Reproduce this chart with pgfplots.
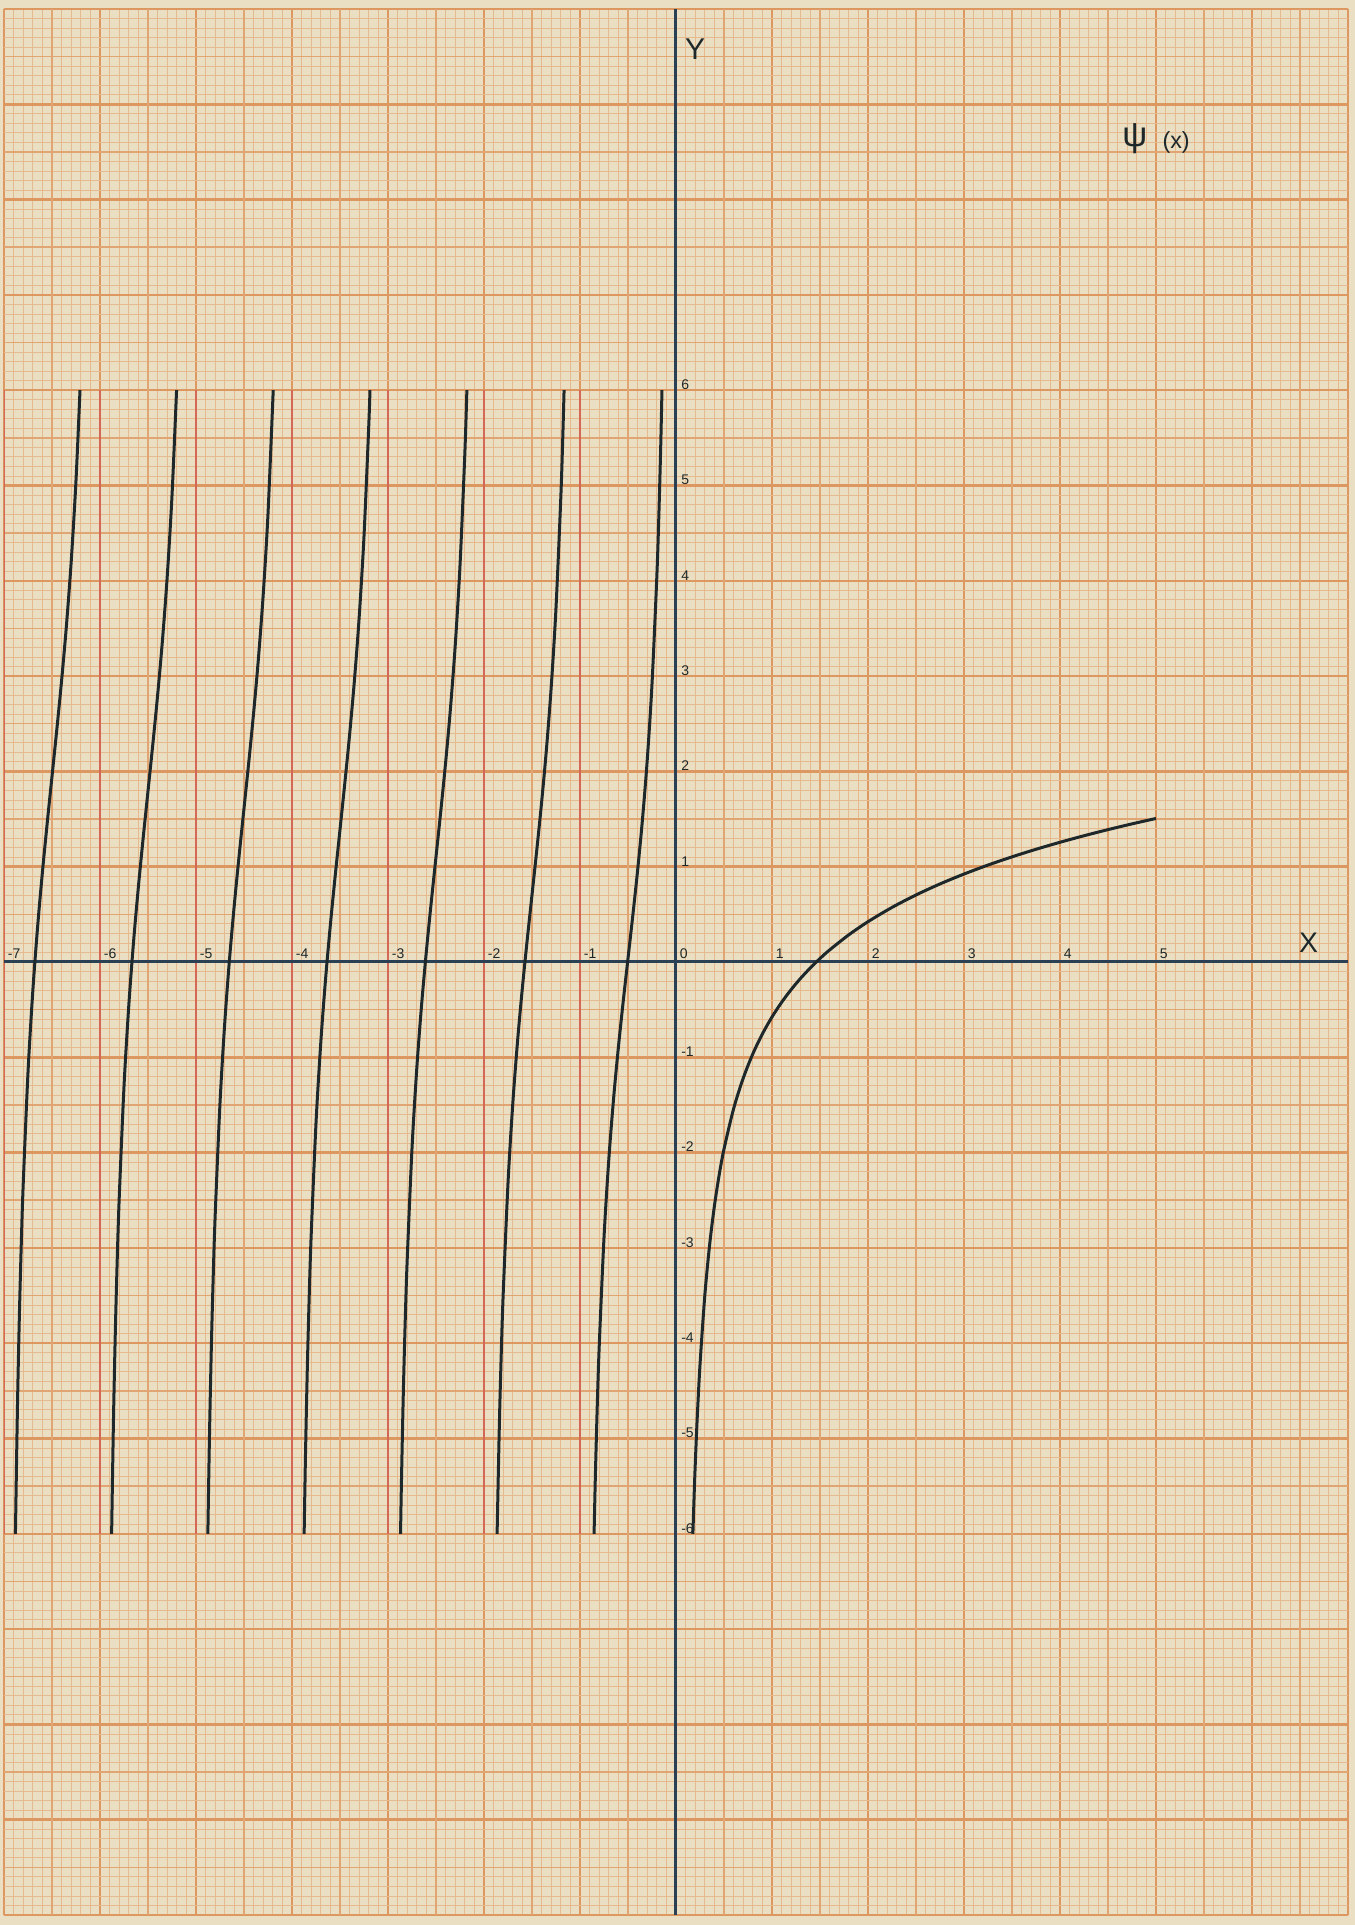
\documentclass[border=0pt]{standalone}
\usepackage{fontspec}
\setmainfont{Liberation Sans}
\usepackage{pgfplots}
\pgfplotsset{compat=1.18}
\usetikzlibrary{backgrounds}
\definecolor{paper}{RGB}{234,223,194}
\definecolor{gridmajor}{RGB}{221,152,98}
\definecolor{gridmed}{RGB}{225,165,115}
\definecolor{gridminor}{RGB}{229,186,142}
\definecolor{redline}{RGB}{212,104,86}
\definecolor{ink}{RGB}{30,40,42}
\definecolor{axisink}{RGB}{42,64,84}
\begin{document}
\begin{tikzpicture}
\begin{axis}[
  name=ax,
  scale only axis, width=403.2pt, height=571.8pt,
  xmin=-7, xmax=7, ymin=-10, ymax=10,
  axis lines=middle, axis line style={draw=none,-},
  hide obscured x ticks=false, hide obscured y ticks=false,
  xtick={-7,...,7},
  xticklabels={-7,-6,-5,-4,-3,-2,-1,0,1,2,3,4,5,{},{}},
  ytick={-10,...,10},
  yticklabels={{},{},{},{},-6,-5,-4,-3,-2,-1,{},1,2,3,4,5,6,{},{},{},{}},
  minor x tick num=9, minor y tick num=9,
  grid=both,
  minor grid style={gridminor, line width=0.25pt},
  major grid style={gridmajor, line width=0.75pt},
  extra x ticks={-6.5,-5.5,...,6.5},
  extra y ticks={-9.5,-8.5,...,9.5},
  extra x tick labels={}, extra y tick labels={},
  extra tick style={major grid style={gridmed, line width=0.45pt}},
  major tick length=0pt, minor tick length=0pt,
  tick style={draw=none},
  xticklabel style={font=\fontsize{4.2}{4.2}\selectfont, text=ink, anchor=west, inner sep=0pt, xshift=1pt, yshift=2.4pt},
  yticklabel style={font=\fontsize{4.2}{4.2}\selectfont, text=ink, anchor=west, inner sep=0pt, xshift=1.4pt, yshift=1.65pt},
  no markers,
]
% asymptote lines
\addplot[redline, line width=0.8pt] coordinates {(-1,-6) (-1,6)};
\addplot[redline, line width=0.8pt] coordinates {(-2,-6) (-2,6)};
\addplot[redline, line width=0.8pt] coordinates {(-3,-6) (-3,6)};
\addplot[redline, line width=0.8pt] coordinates {(-4,-6) (-4,6)};
\addplot[redline, line width=0.8pt] coordinates {(-5,-6) (-5,6)};
\addplot[redline, line width=0.8pt] coordinates {(-6,-6) (-6,6)};
\addplot[redline, line width=0.8pt] coordinates {(-7,-6) (-7,6)};
% axes
\addplot[axisink, line width=0.9pt] coordinates {(-7,0) (7,0)};
\addplot[axisink, line width=0.9pt] coordinates {(0,-10) (0,10)};
% digamma branches
\addplot[ink, line width=0.9pt, smooth, tension=0.5] coordinates {
(-0.14605,6) (-0.16,5.37358) (-0.18,4.63569) (-0.20,4.03499) (-0.25,2.91414) (-0.30,2.11332) (-0.35,1.48679) (-0.40,0.95938) (-0.45,0.48626) (-0.50,0.03649) (-0.55,-0.41536) (-0.60,-0.89472) (-0.65,-1.43261) (-0.70,-2.07396) (-0.75,-2.89412) (-0.80,-4.03904) (-0.82,-4.65075) (-0.84,-5.40047) (-0.85322,-6)};
\addplot[ink, line width=0.9pt, smooth, tension=0.5] coordinates {
(-1.16580,6) (-1.18,5.48315) (-1.20,4.86832) (-1.25,3.71414) (-1.30,2.88255) (-1.35,2.22753) (-1.40,1.67367) (-1.45,1.17592) (-1.50,0.70316) (-1.55,0.22980) (-1.60,-0.26972) (-1.65,-0.82655) (-1.70,-1.48573) (-1.75,-2.32269) (-1.80,-3.48348) (-1.82,-4.10130) (-1.84,-4.85699) (-1.86343,-6)};
\addplot[ink, line width=0.9pt, smooth, tension=0.5] coordinates {
(-2.17831,6) (-2.20,5.32287) (-2.25,4.15858) (-2.30,3.31733) (-2.35,2.65306) (-2.40,2.09034) (-2.45,1.58408) (-2.50,1.10316) (-2.55,0.62196) (-2.60,0.11490) (-2.65,-0.44919) (-2.70,-1.11536) (-2.75,-1.95905) (-2.80,-3.12634) (-2.82,-3.74669) (-2.84,-4.50488) (-2.86,-5.46063) (-2.86934,-6)};
\addplot[ink, line width=0.9pt, smooth, tension=0.5] coordinates {
(-3.18781,6) (-3.20,5.63537) (-3.25,4.46627) (-3.30,3.62036) (-3.35,2.95157) (-3.40,2.38446) (-3.45,1.87394) (-3.50,1.38887) (-3.55,0.90365) (-3.60,0.39268) (-3.65,-0.17522) (-3.70,-0.84509) (-3.75,-1.69238) (-3.80,-2.86318) (-3.82,-3.48491) (-3.84,-4.24446) (-3.86,-5.20156) (-3.87340,-6)};
\addplot[ink, line width=0.9pt, smooth, tension=0.5] coordinates {
(-4.19562,6) (-4.25,4.70156) (-4.30,3.85292) (-4.35,3.18146) (-4.40,2.61173) (-4.45,2.09866) (-4.50,1.61109) (-4.55,1.12343) (-4.60,0.61007) (-4.65,0.03983) (-4.70,-0.63232) (-4.75,-1.48185) (-4.80,-2.65485) (-4.82,-3.27744) (-4.84,-4.03785) (-4.86,-4.99580) (-4.87645,-6)};
\addplot[ink, line width=0.9pt, smooth, tension=0.5] coordinates {
(-5.20233,6) (-5.25,4.89204) (-5.30,4.04160) (-5.35,3.36838) (-5.40,2.79692) (-5.45,2.28215) (-5.50,1.79291) (-5.55,1.30361) (-5.60,0.78864) (-5.65,0.21682) (-5.70,-0.45688) (-5.75,-1.30794) (-5.80,-2.48244) (-5.82,-3.10562) (-5.84,-3.86662) (-5.86,-4.82515) (-5.87888,-6)};
\addplot[ink, line width=0.9pt, smooth, tension=0.5] coordinates {
(-6.20827,6) (-6.25,5.05204) (-6.30,4.20033) (-6.35,3.52586) (-6.40,2.95317) (-6.45,2.43719) (-6.50,1.94676) (-6.55,1.45628) (-6.60,0.94016) (-6.65,0.36720) (-6.70,-0.30763) (-6.75,-1.15979) (-6.80,-2.33538) (-6.82,-2.95899) (-6.84,-3.72042) (-6.86,-4.67938) (-6.88089,-6)};
\addplot[ink, line width=0.9pt, smooth, tension=0.5] coordinates {
(0.176052,-6) (0.19,-5.5650) (0.20,-5.28904) (0.22,-4.81025) (0.25,-4.22745) (0.30,-3.50252) (0.35,-2.97107) (0.40,-2.56139) (0.45,-2.23354) (0.50,-1.96351) (0.60,-1.54062) (0.70,-1.22002) (0.80,-0.96501) (0.90,-0.75492) (1.00,-0.57722) (1.10,-0.42376) (1.20,-0.28904) (1.30,-0.16919) (1.40,-0.06139) (1.50,0.03649) (1.60,0.12605) (1.80,0.28499) (2.00,0.42278) (2.25,0.57255) (2.50,0.70316) (2.75,0.81890) (3.00,0.92278) (3.25,1.01699) (3.50,1.10316) (3.75,1.18254) (4.00,1.25612) (4.25,1.32468) (4.50,1.38887) (4.75,1.44921) (5.00,1.50612)};
% labels
\node[text=ink, font=\fontsize{8.5}{8.5}\selectfont, inner sep=0pt] at (axis cs:6.59,0.2) {X};
\node[text=ink, font=\fontsize{9}{9}\selectfont, inner sep=0pt] at (axis cs:0.2,9.58) {Y};
\node[text=ink, font=\fontsize{10.5}{10.5}\selectfont, inner sep=0pt] at (axis cs:4.78,8.64) {ψ};
\node[text=ink, font=\fontsize{7}{7}\selectfont, inner sep=0pt] at (axis cs:5.21,8.60) {(x)};
\end{axis}
\begin{scope}[on background layer]
\fill[paper] ([xshift=-1.2pt,yshift=-3pt]ax.south west) rectangle ([xshift=2.1pt,yshift=2.7pt]ax.north east);
\end{scope}
\pgfresetboundingbox
\path[use as bounding box] ([xshift=-1.2pt,yshift=-3pt]ax.south west) rectangle ([xshift=2.1pt,yshift=2.7pt]ax.north east);
\end{tikzpicture}
\end{document}
